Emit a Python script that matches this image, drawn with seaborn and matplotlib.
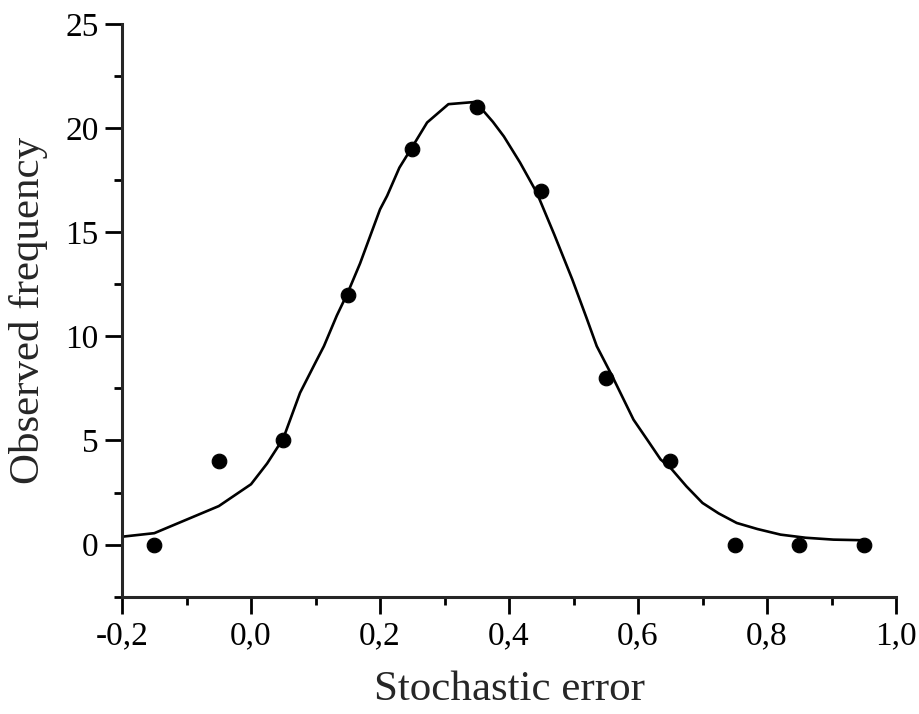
import pandas as pd
import seaborn as sns
import matplotlib.pyplot as plt

# Observed points
error_bins = [-0.15, -0.05, 0.05, 0.15, 0.25, 0.35, 0.45, 0.55, 0.65, 0.75, 0.85, 0.95]
observed = [0, 4, 5, 12, 19, 21, 17, 8, 4, 0, 0, 0]

# Fitted curve
fit_x = [-0.20, -0.15, -0.10, -0.05, 0.00, 0.025, 0.05, 0.076, 0.10, 0.113,
         0.133, 0.15, 0.169, 0.20, 0.211, 0.23, 0.252, 0.273, 0.306, 0.345,
         0.361, 0.375, 0.392, 0.417, 0.443, 0.47, 0.498, 0.52, 0.536, 0.56,
         0.593, 0.614, 0.635, 0.65, 0.675, 0.70, 0.725, 0.753, 0.785, 0.821,
         0.86, 0.903, 0.95]
fit_y = [0.38, 0.55, 1.2, 1.85, 2.9, 3.9, 5.1, 7.29, 8.75, 9.53,
         11.0, 12.1, 13.5, 16.1, 16.75, 18.1, 19.2, 20.27, 21.15, 21.25,
         20.8, 20.3, 19.6, 18.35, 16.9, 14.9, 12.74, 10.9, 9.53, 8.09,
         6.0, 5.05, 4.09, 3.7, 2.8, 2.0, 1.5, 1.04, 0.75, 0.48,
         0.33, 0.24, 0.21]

x_ticks = [-0.2, 0.0, 0.2, 0.4, 0.6, 0.8, 1.0]
x_tick_labels = ['-0,2', '0,0', '0,2', '0,4', '0,6', '0,8', '1,0']
y_ticks = [0, 5, 10, 15, 20, 25]

points_df = pd.DataFrame({'error': error_bins, 'freq': observed})
fit_df = pd.DataFrame({'error': fit_x, 'freq': fit_y})

sns.set_style('ticks')
plt.rcParams['font.family'] = ['Liberation Serif', 'DejaVu Serif']

fig = plt.figure(figsize=(9.19, 7.14), dpi=100)
ax = fig.add_axes([0.1328, 0.1643, 0.8422, 0.8021])

sns.lineplot(data=fit_df, x='error', y='freq', color='black', linewidth=1.9,
             sort=False, ax=ax)
sns.scatterplot(data=points_df, x='error', y='freq', color='black', s=110,
                edgecolor='black', zorder=3, ax=ax)

ax.set_xlim(-0.2, 1.0)
ax.set_ylim(-2.5, 25)
ax.set_xticks(x_ticks)
ax.set_xticklabels(x_tick_labels)
ax.set_yticks(y_ticks)
ax.set_xticks([-0.1, 0.1, 0.3, 0.5, 0.7, 0.9], minor=True)
ax.set_yticks([-2.5, 2.5, 7.5, 12.5, 17.5, 22.5], minor=True)

for side in ['top', 'right']:
    ax.spines[side].set_visible(False)
for side in ['left', 'bottom']:
    ax.spines[side].set_linewidth(2.2)

ax.tick_params(which='major', direction='out', length=12, width=2,
               labelsize=24, color='black', labelcolor='black', pad=5)
ax.tick_params(which='minor', direction='out', length=6, width=2, color='black')

ax.set_xlabel('Stochastic error', fontsize=31, labelpad=14)
ax.set_ylabel('Observed frequency', fontsize=31, labelpad=12)

fig.savefig('out.png', dpi=100)
